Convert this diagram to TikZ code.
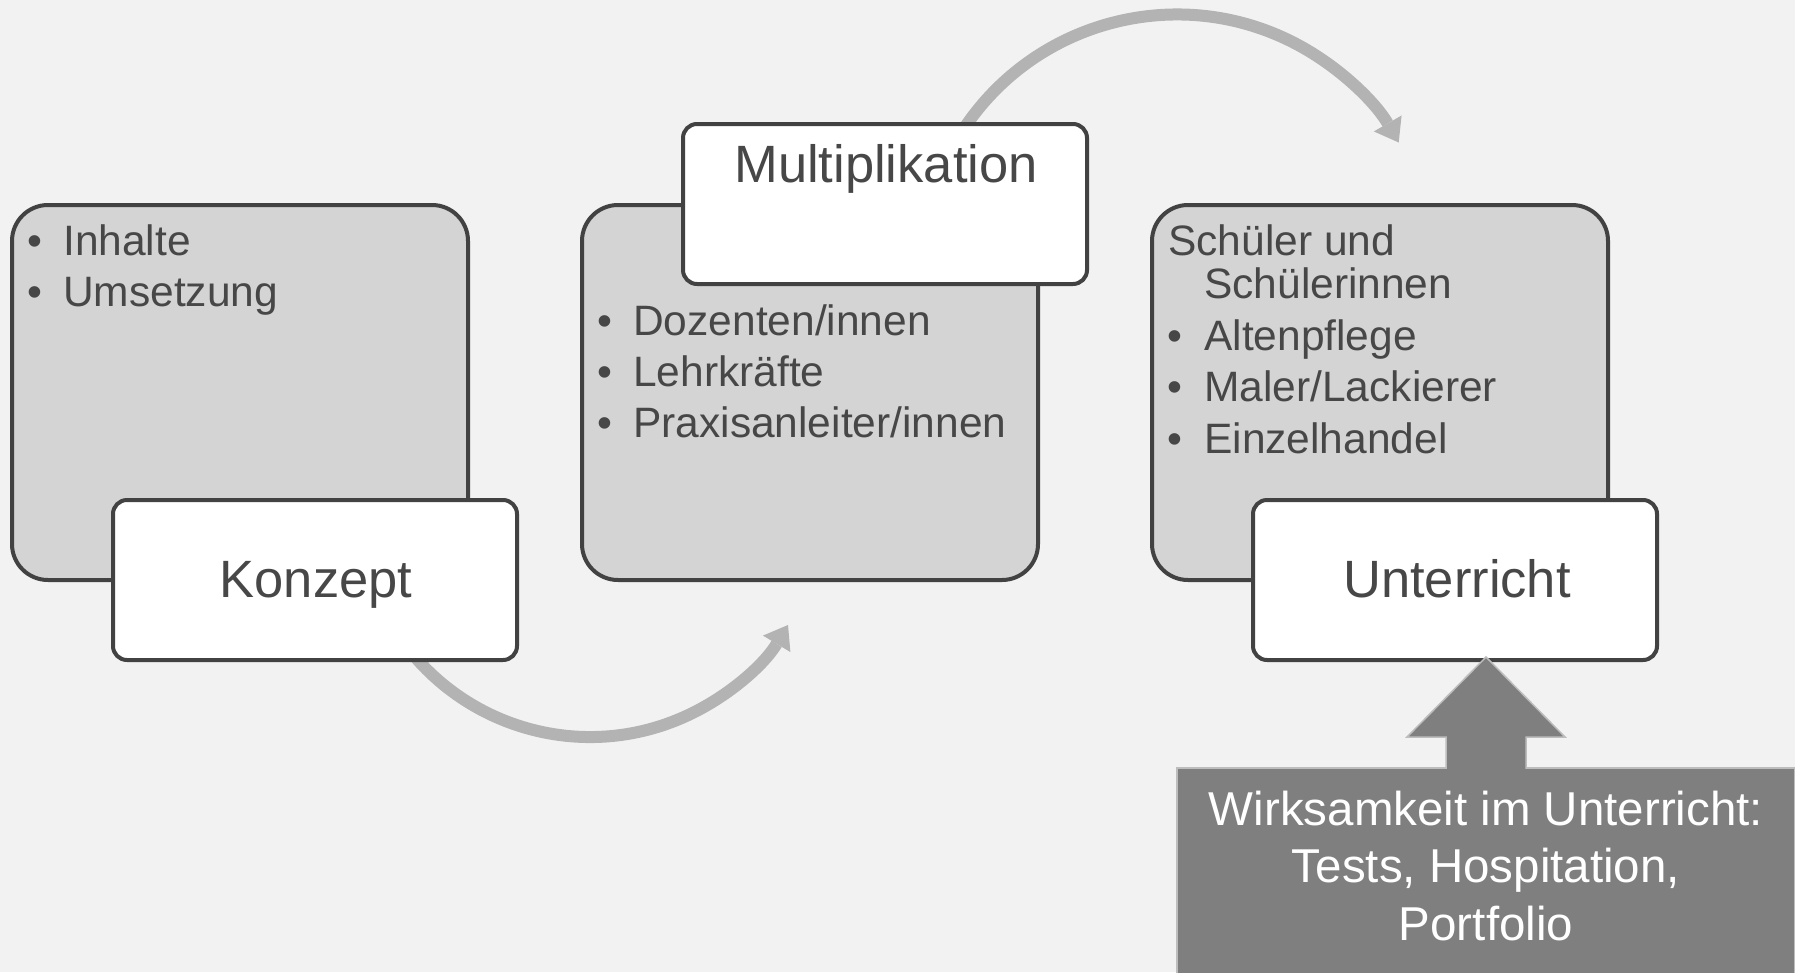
\documentclass[tikz,border=0pt]{standalone}
\usepackage{fontspec}
\setmainfont{Liberation Sans}
\usetikzlibrary{arrows.meta}
\definecolor{pagebg}{HTML}{F2F2F2}
\definecolor{panelfill}{HTML}{D4D4D4}
\definecolor{edgedark}{HTML}{424242}
\definecolor{textdark}{HTML}{474747}
\definecolor{flowgray}{HTML}{B3B3B3}
\definecolor{blockgray}{HTML}{7F7F7F}
\definecolor{blockedge}{HTML}{BDBDBD}
\begin{document}
\begin{tikzpicture}[x=1pt,y=1pt,
  panel/.style={draw=edgedark, line width=4pt, fill=panelfill, rounded corners=36pt,
    minimum width=456pt, minimum height=375pt, inner sep=0pt},
  stage/.style={draw=edgedark, line width=4pt, fill=white, rounded corners=14pt,
    minimum width=404pt, minimum height=160pt, inner sep=0pt},
  bodytext/.style={inner sep=0pt, anchor=base west, text=textdark,
    font=\fontsize{42.5}{51}\selectfont},
  bulletmark/.style={inner sep=0pt, anchor=base, text=textdark,
    font=\fontsize{42.5}{51}\selectfont},
  stagetitle/.style={inner sep=0pt, anchor=base, text=textdark,
    font=\fontsize{52.5}{63}\selectfont},
  effecttext/.style={inner sep=0pt, anchor=base, text=white,
    font=\fontsize{47.5}{57}\selectfont},
  flow/.style={draw=flowgray, line width=12pt,
    -{Triangle[length=22pt 0 0, width=32pt 0 0, line width=0pt 0 0]}},
]
\clip (0,0) rectangle (1795,-972);
\fill[pagebg] (0,0) rectangle (1795,-972);

% curved flow arrows (their tails sit behind the stage boxes)
\coordinate (bend1) at (590,-506);
\coordinate (bend2) at (1177,-270.5);
\draw[flow] ([shift={(205:231)}]bend1) arc[start angle=205, end angle=329, radius=231];
\draw[flow] ([shift={(150:256)}]bend2) arc[start angle=150, end angle=30, radius=256];

% content panels
\node[panel] (p1) at (240,-392.5) {};
\node[panel] (p2) at (810,-392.5) {};
\node[panel] (p3) at (1380,-392.5) {};

% stage boxes
\node[stage] (s1) at (315,-580) {};
\node[stage] (s2) at (885,-204) {};
\node[stage] (s3) at (1455,-580) {};

\node[stagetitle] (s1t) at (316,-597) {Konzept};
\node[stagetitle] (s2t) at (886,-182) {Multiplikation};
\node[stagetitle] (s3t) at (1457,-597) {Unterricht};

% panel 1
\node[bulletmark] (b1a) at (35,-255) {•};
\node[bodytext] (t1a) at (63,-255) {Inhalte};
\node[bulletmark] (b1b) at (35,-306.5) {•};
\node[bodytext] (t1b) at (63,-306.5) {Umsetzung};

% panel 2
\node[bulletmark] (b2a) at (605,-335) {•};
\node[bodytext] (t2a) at (633,-335) {Dozenten/innen};
\node[bulletmark] (b2b) at (605,-386.5) {•};
\node[bodytext] (t2b) at (633,-386.5) {Lehrkräfte};
\node[bulletmark] (b2c) at (605,-437) {•};
\node[bodytext] (t2c) at (633,-437) {Praxisanleiter/innen};

% panel 3
\node[bodytext] (t3a) at (1168,-255) {Schüler und};
\node[bodytext] (t3b) at (1204,-298) {Schülerinnen};
\node[bulletmark] (b3c) at (1175,-350) {•};
\node[bodytext] (t3c) at (1204,-350) {Altenpflege};
\node[bulletmark] (b3d) at (1175,-401.5) {•};
\node[bodytext] (t3d) at (1204,-401.5) {Maler/Lackierer};
\node[bulletmark] (b3e) at (1175,-453) {•};
\node[bodytext] (t3e) at (1204,-453) {Einzelhandel};

% evaluation block with upward block arrow
\node[draw=blockedge, line width=1.5pt, fill=blockgray, inner sep=0pt,
  minimum width=618pt, minimum height=232pt] (effect) at (1486,-884) {};
\coordinate (tip) at (1486,-657);
\fill[blockgray] (1446,-770) -- (1446,-737) -- (1407,-737) -- (tip)
  -- (1565,-737) -- (1526,-737) -- (1526,-770) -- cycle;
\draw[blockedge, line width=1.5pt, line join=miter]
  (1446,-768.8) -- (1446,-737) -- (1407,-737) -- (tip)
  -- (1565,-737) -- (1526,-737) -- (1526,-768.8);

\node[effecttext] (e1) at (1486,-825) {Wirksamkeit im Unterricht:};
\node[effecttext] (e2) at (1486,-882.5) {Tests, Hospitation,};
\node[effecttext] (e3) at (1486,-940) {Portfolio};
\end{tikzpicture}
\end{document}
